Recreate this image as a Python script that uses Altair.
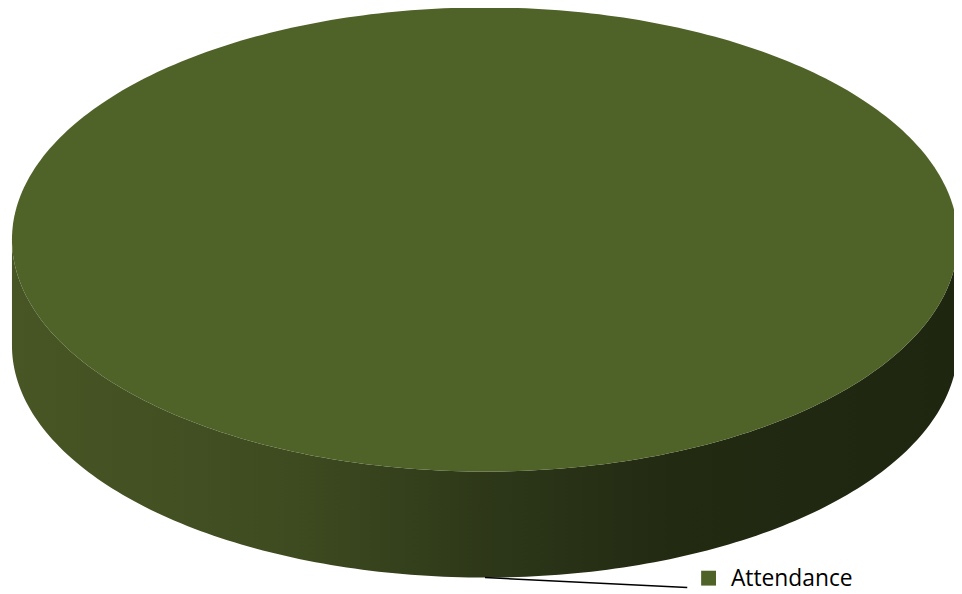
import numpy as np
import pandas as pd
import altair as alt

# ---- data ----
categories = ["Attendance"]
values = [100]
slice_colors = ["#4F6228"]

# ---- styling constants ----
DEPTH = 0.457          # pie thickness in units of the vertical radius
N = 361

total = sum(values)
slices = []
start = -np.pi / 2     # first slice starts at 12 o'clock, clockwise
for cat, val, col in zip(categories, values, slice_colors):
    sweep = 2 * np.pi * val / total
    slices.append(dict(category=cat, value=val, color=col,
                       start=start, end=start + sweep,
                       mid=start + sweep / 2))
    start += sweep
slice_df = pd.DataFrame(slices)

# Geometry of the (single, full) slice derived from its angular range
s = slices[0]
ang = np.linspace(s["start"], s["end"], N)
ang = ang[(np.sin(ang) >= -1e-12)]          # front half of the rim
ang = np.unique(np.concatenate([ang, [0.0, np.pi]]))
rim = pd.DataFrame({
    "x": np.cos(ang),
    "ytop": np.sin(ang),
    "ybot": np.sin(ang) + DEPTH,
    "yup": -np.sin(ang),
})

# leader anchor at the slice's middle angle, on the rim's lower edge
slice_df["ax"] = np.cos(slice_df["mid"])
slice_df["ay"] = np.sin(slice_df["mid"]) + DEPTH

xscale = alt.Scale(domain=[-1, 1], range=[4, 958])
yscale = alt.Scale(domain=[-1, 1], range=[-3, 465])

side_grad = alt.LinearGradient(
    gradient="linear",
    stops=[
        alt.GradientStop(color="#485625", offset=0),
        alt.GradientStop(color="#3E4B20", offset=0.3),
        alt.GradientStop(color="#2C3618", offset=0.52),
        alt.GradientStop(color="#222A12", offset=0.7),
        alt.GradientStop(color="#1F2610", offset=1),
    ],
    x1=0, x2=1, y1=0, y2=0,
)

side = alt.Chart(rim).mark_area(color=side_grad).encode(
    x=alt.X("x:Q", scale=xscale, axis=None),
    y=alt.Y("ytop:Q", scale=yscale, axis=None),
    y2="ybot:Q",
)

top = alt.Chart(rim).mark_area(color=slice_colors[0]).encode(
    x=alt.X("x:Q", scale=xscale, axis=None),
    y=alt.Y("yup:Q", scale=yscale, axis=None),
    y2="ytop:Q",
)

leader = alt.Chart(slice_df).mark_rule(color="black", strokeWidth=1.5).encode(
    x=alt.X("ax:Q", scale=xscale, axis=None),
    y=alt.Y("ay:Q", scale=yscale, axis=None),
    x2=alt.value(685),
    y2=alt.value(582),
)

key = alt.Chart(slice_df).mark_point(shape="square", filled=True, opacity=1, size=225).encode(
    x=alt.value(706.5),
    y=alt.value(572.5),
    color=alt.Color("color:N", scale=None),
)

label = alt.Chart(slice_df).mark_text(
    align="left", baseline="alphabetic", font="Open Sans", fontSize=23, color="black"
).encode(
    x=alt.value(729),
    y=alt.value(580),
    text="category:N",
)

chart = alt.layer(side, top, leader, key, label).properties(
    width=954, height=586,
    autosize=alt.AutoSizeParams(type="none"),
    padding=0,
    background="white",
).configure_view(stroke=None)

chart.save("out.html", embed_options={"renderer": "svg", "actions": False})
